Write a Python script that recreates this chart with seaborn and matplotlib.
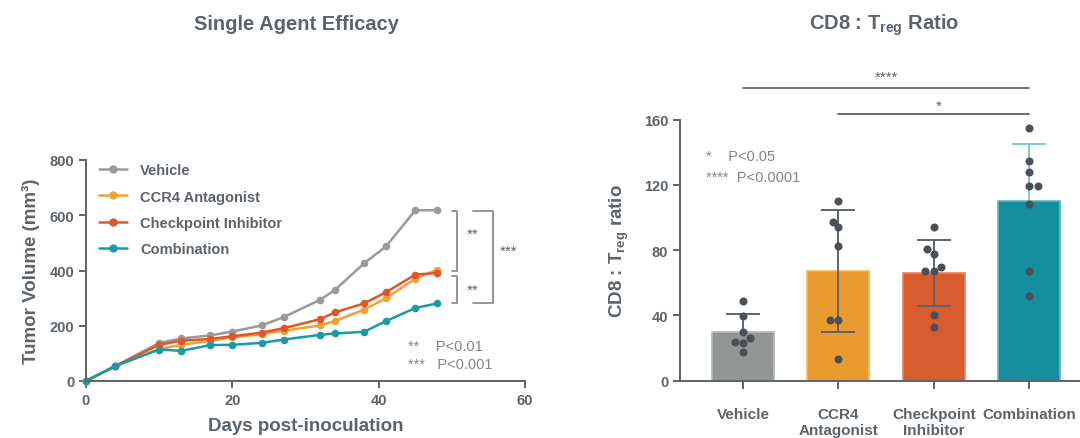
import numpy as np
import pandas as pd
import matplotlib
matplotlib.use("Agg")
import matplotlib.pyplot as plt
import seaborn as sns

# ---------------- data ----------------
days = [0, 4, 10, 13, 17, 20, 24, 27, 32, 34, 38, 41, 45, 48]
vehicle = [0, 54, 138, 154, 165, 179, 201, 231, 294, 329, 426, 487, 618, 618]
ccr4 = [0, 54, 115, 131, 145, 158, 169, 182, 201, 217, 258, 300, 370, 403]
checkpoint = [0, 54, 131, 146, 152, 162, 175, 191, 224, 248, 281, 321, 385, 391]
combination = [0, 54, 114, 109, 130, 131, 138, 150, 167, 172, 178, 217, 264, 281]
series_names = ["Vehicle", "CCR4 Antagonist", "Checkpoint Inhibitor", "Combination"]

groups = ["Vehicle", "CCR4\nAntagonist", "Checkpoint\nInhibitor", "Combination"]
ratio_vehicle = [49.0, 39.8, 30.0, 26.0, 23.5, 22.9, 17.4]
ratio_ccr4 = [110.0, 97.5, 94.0, 82.8, 37.2, 37.2, 13.3]
ratio_checkpoint = [94.0, 80.7, 77.6, 69.7, 67.2, 67.2, 40.3, 33.1]
ratio_combination = [154.9, 134.5, 127.7, 119.5, 119.5, 108.3, 67.2, 51.7]

# ---------------- style ----------------
sns.set_theme(style="ticks")
plt.rcParams["font.family"] = ["Liberation Sans", "DejaVu Sans"]
plt.rcParams["mathtext.fontset"] = "custom"
plt.rcParams["mathtext.rm"] = "Liberation Sans"
plt.rcParams["mathtext.bf"] = "Liberation Sans:bold"

TXT = "#5d636b"
SPINE = "#5d636b"
PTXT = "#80858c"
line_colors = ["#9a9a9a", "#f2a231", "#e0562b", "#1a9aa8"]
bar_colors = ["#929694", "#e99b30", "#d95c2e", "#158e9f"]
bar_edges = ["#b4b8b6", "#f2b660", "#e8825d", "#5fb6c3"]
dot_color = "#4b5058"

fig = plt.figure(figsize=(10.8, 4.39), dpi=100)

# ---------------- left: line chart ----------------
ax1 = fig.add_axes([86 / 1080, 1 - 382 / 439, (525 - 86) / 1080, (382 - 161) / 439])
df = pd.DataFrame({
    "day": days * 4,
    "vol": vehicle + ccr4 + checkpoint + combination,
    "grp": sum([[n] * len(days) for n in series_names], []),
})
sns.lineplot(data=df, x="day", y="vol", hue="grp", hue_order=series_names,
             palette=line_colors, marker="o", markersize=5.5, markeredgewidth=0,
             linewidth=1.8, ax=ax1, legend=False, clip_on=False)
ax1.set_xlim(0, 60)
ax1.set_ylim(0, 800)
ax1.set_xticks([0, 20, 40, 60])
ax1.set_yticks([0, 200, 400, 600, 800])
for s in ["top", "right"]:
    ax1.spines[s].set_visible(False)
for s in ["left", "bottom"]:
    ax1.spines[s].set_color(SPINE)
    ax1.spines[s].set_linewidth(1.4)
ax1.tick_params(colors=SPINE, labelcolor=TXT, labelsize=10.5, width=1.4, length=5)
for lab in ax1.get_xticklabels() + ax1.get_yticklabels():
    lab.set_fontweight("bold")
ax1.set_xlabel("Days post-inoculation", fontsize=13.5, fontweight="bold", color=TXT, labelpad=7)
ax1.set_ylabel("Tumor Volume (mm³)", fontsize=13.5, fontweight="bold", color=TXT, labelpad=7)

handles = [plt.Line2D([], [], color=c, marker="o", markersize=5, lw=1.8) for c in line_colors]
leg = ax1.legend(handles, series_names, loc="upper left", bbox_to_anchor=(0.0, 1.045),
                 frameon=False, fontsize=10.5, handlelength=1.9, handletextpad=0.9,
                 labelspacing=0.85)
for t in leg.get_texts():
    t.set_color(TXT)
    t.set_fontweight("bold")

# brackets
bc = "#8a8f96"
def bracket(ax, x_tick, x_line, y0, y1):
    ax.plot([x_tick, x_line, x_line, x_tick], [y0, y0, y1, y1], color=bc, lw=1.3, clip_on=False)
bracket(ax1, 50.0, 50.7, 616, 399)
bracket(ax1, 50.0, 50.7, 380, 282)
bracket(ax1, 52.9, 55.6, 616, 282)
ax1.text(52.8, 532, "**", ha="center", va="center", color=TXT, fontsize=11)
ax1.text(52.8, 329, "**", ha="center", va="center", color=TXT, fontsize=11)
ax1.text(57.7, 471, "***", ha="center", va="center", color=TXT, fontsize=11)
ax1.text(44.0, 127, "**    P<0.01", ha="left", va="center", color=PTXT, fontsize=10.5)
ax1.text(44.0, 62, "***   P<0.001", ha="left", va="center", color=PTXT, fontsize=10.5)

fig.text(297 / 1080, 1 - 24 / 439, "Single Agent Efficacy", ha="center", va="center",
         fontsize=14.5, fontweight="bold", color=TXT)

# ---------------- right: bar chart ----------------
ax2 = fig.add_axes([680 / 1080, 1 - 381.7 / 439, (1080 - 680) / 1080, (381.7 - 120.7) / 439])
vals = [ratio_vehicle, ratio_ccr4, ratio_checkpoint, ratio_combination]
bdf = pd.DataFrame({
    "grp": sum([[g] * len(v) for g, v in zip(groups, vals)], []),
    "val": sum(vals, []),
})
sns.barplot(data=bdf, x="grp", y="val", order=groups, hue="grp", hue_order=groups,
            palette=bar_colors, errorbar=None, width=0.65, saturation=1, ax=ax2,
            legend=False, zorder=1)
for patch, ec in zip(ax2.patches, bar_edges):
    patch.set_edgecolor(ec)
    patch.set_linewidth(1.2)

means = [np.mean(v) for v in vals]
sds = [np.std(v, ddof=1) for v in vals]
err_colors = [SPINE, SPINE, SPINE, "#7ccad4"]
lower_shown = [False, True, True, False]
for i in range(4):
    lo = sds[i] if lower_shown[i] else 0
    _, caps, _ = ax2.errorbar(i, means[i], yerr=[[lo], [sds[i]]], color=err_colors[i],
                              capsize=12, elinewidth=1.4, capthick=1.4, zorder=3)
    if not lower_shown[i]:
        caps[0].set_visible(False)

sns.swarmplot(data=bdf, x="grp", y="val", order=groups, color=dot_color, size=5.8,
              ax=ax2, zorder=4)

ax2.set_xlim(-0.66, 3.53)
ax2.set_ylim(0, 160)
ax2.set_yticks([0, 40, 80, 120, 160])
for s in ["top", "right"]:
    ax2.spines[s].set_visible(False)
for s in ["left", "bottom"]:
    ax2.spines[s].set_color(SPINE)
    ax2.spines[s].set_linewidth(1.4)
ax2.tick_params(colors=SPINE, labelcolor=TXT, labelsize=10.5, width=1.4, length=5)
ax2.tick_params(axis="x", length=6, pad=13, labelsize=11)
for lab in ax2.get_xticklabels() + ax2.get_yticklabels():
    lab.set_fontweight("bold")
ax2.set_xlabel("")
ax2.set_ylabel(r"CD8 : T$_\mathbf{reg}$ ratio", fontsize=13.5, fontweight="bold", color=TXT, labelpad=9)

# significance lines
ax2.plot([0, 3], [179.4, 179.4], color=SPINE, lw=1.3, clip_on=False)
ax2.plot([1, 3], [163.6, 163.6], color=SPINE, lw=1.3, clip_on=False)
ax2.text(1.5, 186.5, "****", ha="center", va="center", color=TXT, fontsize=11)
ax2.text(2.05, 168.5, "*", ha="center", va="center", color=TXT, fontsize=11)
ax2.text(-0.39, 137.8, "*    P<0.05", ha="left", va="center", color=PTXT, fontsize=10.5)
ax2.text(-0.39, 124.9, "****  P<0.0001", ha="left", va="center", color=PTXT, fontsize=10.5)

fig.text(884 / 1080, 1 - 25 / 439, r"CD8 : T$_\mathbf{reg}$ Ratio", ha="center", va="center",
         fontsize=14.5, fontweight="bold", color=TXT)

fig.savefig("out.png", dpi=100)
